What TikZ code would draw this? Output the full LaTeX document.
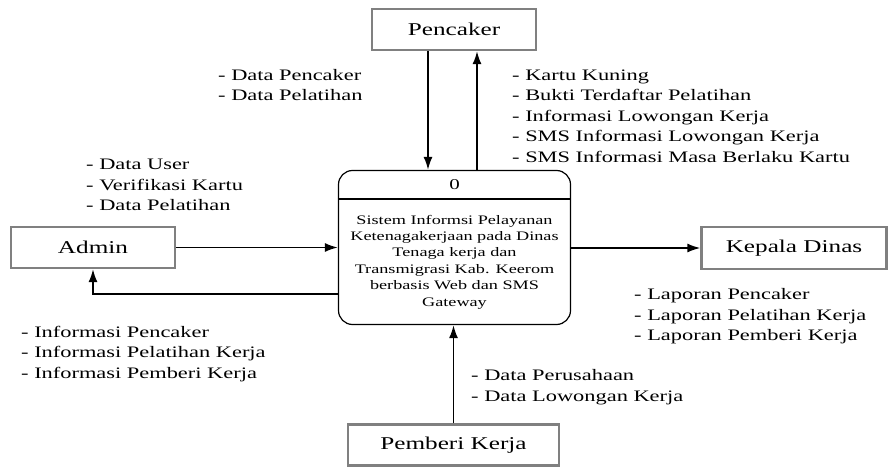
\documentclass[tikz,border=0pt]{standalone}
\usepackage{fontspec}
\setmainfont{Liberation Serif}[FakeStretch=1.4]
\usetikzlibrary{arrows.meta}

\tikzset{
  entity/.style={draw=gray, line width=2.2pt, fill=white, inner sep=0pt, font=\fontsize{18}{20}\selectfont},
  process/.style={draw, line width=1.2pt, rounded corners=14pt, minimum width=232pt, minimum height=154pt},
  flow/.style={-{Latex[length=13pt,width=9pt]}, line width=1.8pt},
  lbl/.style={align=left, anchor=west, inner sep=0pt, font=\fontsize{16}{20.5}\selectfont},
}

\begin{document}
\begin{tikzpicture}[x=1pt, y=-1pt]
   \useasboundingbox (0,0) rectangle (889,468);
   \node[entity, minimum width=164pt, minimum height=41pt] (pencaker) at (454,29.5) {Pencaker};
   \node[entity, minimum width=164pt, minimum height=41pt] (admin) at (93,247.5) {Admin};
   \node[entity, minimum width=185pt, minimum height=42pt] (kepala) at (794,248) {Kepala Dinas};
   \node[entity, minimum width=211pt, minimum height=41pt] (pemberi) at (453.5,445) {Pemberi Kerja};
   \node[process] (proc) at (454.5,247.5) {};
   \draw[line width=1.8pt] (proc.west |- 0,199) coordinate (hdl) -- (proc.east |- 0,199) coordinate (hdr);
   \node[font=\fontsize{15}{16}\selectfont] (procid) at (454.5,184.5) {0};
   \node[align=center, font=\fontsize{13}{16.4}\selectfont] (procname) at (454.5,262)
      {Sistem Informsi Pelayanan\\Ketenagakerjaan pada Dinas\\Tenaga kerja dan\\Transmigrasi Kab. Keerom\\berbasis Web dan SMS\\Gateway};

   \draw[flow] (pencaker.south -| 428,0) -- (proc.north -| 428,0);
   \draw[flow] (proc.north -| 477,0) -- (pencaker.south -| 477,0);
   \draw[flow] (admin.east) -- (proc.west |- admin.east);
   \draw[flow] (proc.west |- 0,294) -| (admin.south);
   \draw[flow] (proc.east |- kepala.west) -- (kepala.west);
   \draw[flow] (pemberi.north) -- (proc.south -| pemberi.north);

   \node[lbl] (inpencaker) at (218,85) {- Data Pencaker\\- Data Pelatihan};
   \node[lbl] (outpencaker) at (512,116) {- Kartu Kuning\\- Bukti Terdaftar Pelatihan\\- Informasi Lowongan Kerja\\- SMS Informasi Lowongan Kerja\\- SMS Informasi Masa Berlaku Kartu};
   \node[lbl] (inadmin) at (86,185) {- Data User\\- Verifikasi Kartu\\- Data Pelatihan};
   \node[lbl] (outadmin) at (21,354) {- Informasi Pencaker\\- Informasi Pelatihan Kerja\\- Informasi Pemberi Kerja};
   \node[lbl] (outkepala) at (634,316.5) {- Laporan Pencaker\\- Laporan Pelatihan Kerja\\- Laporan Pemberi Kerja};
   \node[lbl] (inpemberi) at (471,387) {- Data Perusahaan\\- Data Lowongan Kerja};
\end{tikzpicture}
\end{document}
